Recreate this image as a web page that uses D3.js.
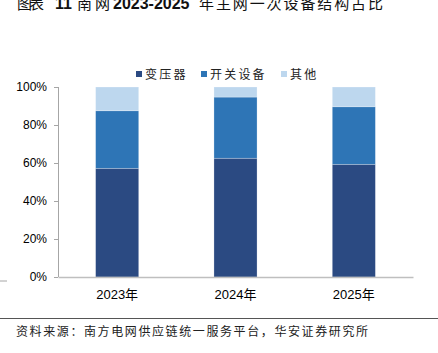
<!DOCTYPE html>
<html>
<head>
<meta charset="utf-8">
<script src="https://cdn.jsdelivr.net/npm/d3@7"></script>
<style>
  body { margin: 0; background: #fff; }
  svg { display: block; }
  .axis text { font-family: "Liberation Sans", Arial, sans-serif; fill: #000; }
  .cn { font-family: "Noto Sans CJK SC", sans-serif; }
  .num { font-family: "Liberation Sans", Arial, sans-serif; font-weight: bold; }
</style>
</head>
<body>
<div id="chart"></div>
<script>
// chart data
const years = ['2023年', '2024年', '2025年'];
const seriesNames = ['变压器', '开关设备', '其他'];
const transformer = [57.2, 62.5, 59.3];
const switchgear = [30.3, 32.2, 30.3];
const others = [12.5, 5.3, 10.4];
const yTicks = [0, 20, 40, 60, 80, 100];
const colors = ['#2b4a82', '#2e75b6', '#bdd7ee'];

const width = 438;
const height = 353;
const margin = { top: 87, right: 25, bottom: 76, left: 58 };
const innerW = width - margin.left - margin.right;
const innerH = height - margin.top - margin.bottom;

const svg = d3.select('#chart').append('svg')
  .attr('width', width)
  .attr('height', height);

// title pieces (top clipped like the original page cut)
const titleParts = [
  { t: '图表', x: 17, len: 27, cls: 'cn', size: 15 },
  { t: '11', x: 55, len: null, cls: 'num', size: 16 },
  { t: '南网', x: 77, len: 33, cls: 'cn', size: 15 },
  { t: '2023-2025', x: 113, len: null, cls: 'num', size: 16 },
  { t: '年主网一次设备结构占比', x: 199, len: 184, cls: 'cn', size: 15 },
];
titleParts.forEach((p) => {
  const el = svg.append('text')
    .attr('class', p.cls)
    .attr('x', p.x)
    .attr('y', 9)
    .attr('fill', '#111')
    .style('font-size', `${p.size}px`)
    .text(p.t);
  if (p.len) el.attr('textLength', p.len).attr('lengthAdjust', 'spacing');
});

const chart = svg.append('g')
  .attr('transform', `translate(${margin.left},${margin.top})`);

const xScale = d3.scaleBand()
  .domain(years)
  .range([0, innerW])
  .paddingInner(0.636)
  .paddingOuter(0.318);

const yScale = d3.scaleLinear()
  .domain([0, 100])
  .range([innerH, 0]);

// stack the three series
const rows = years.map((y, i) => ({
  year: y, '变压器': transformer[i], '开关设备': switchgear[i], '其他': others[i],
}));
const stacked = d3.stack().keys(seriesNames)(rows);

chart.selectAll('.series')
  .data(stacked)
  .join('g')
  .attr('class', 'series')
  .attr('fill', (d, i) => colors[i])
  .selectAll('rect')
  .data((d) => d)
  .join('rect')
  .attr('x', (d) => xScale(d.data.year))
  .attr('y', (d) => yScale(d[1]))
  .attr('width', xScale.bandwidth())
  .attr('height', (d) => yScale(d[0]) - yScale(d[1]))
  .attr('stroke', 'rgba(255,255,255,0.35)')
  .attr('stroke-width', 0.7);

// y axis
const yAxis = d3.axisLeft(yScale)
  .tickValues(yTicks)
  .tickFormat((d) => `${d}%`)
  .tickSize(4)
  .tickPadding(7);

const yAxisG = chart.append('g')
  .attr('class', 'axis y-axis')
  .call(yAxis);
yAxisG.select('.domain').attr('stroke', '#a6a6a6').attr('d', `M0.5,0V${innerH}`);
yAxisG.selectAll('.tick line').attr('stroke', '#a6a6a6');
yAxisG.selectAll('.tick text').style('font-size', '12px');

// x axis
const xAxis = d3.axisBottom(xScale).tickSize(0).tickPadding(13);
const xAxisG = chart.append('g')
  .attr('class', 'axis x-axis')
  .attr('transform', `translate(0,${innerH})`)
  .call(xAxis);
xAxisG.select('.domain').attr('stroke', '#bfbfbf').attr('stroke-width', 1.5);
xAxisG.selectAll('.tick text')
  .style('font-size', '13px')
  .each(function () {
    const t = d3.select(this);
    const s = t.text();
    t.text(null);
    t.append('tspan').text(s.slice(0, 4));
    t.append('tspan').attr('class', 'cn').text(s.slice(4));
  });

// legend
const legendX = [136, 201, 281];
const legend = svg.append('g').attr('class', 'legend');
seriesNames.forEach((name, i) => {
  legend.append('rect')
    .attr('x', legendX[i])
    .attr('y', 71)
    .attr('width', 6)
    .attr('height', 6)
    .attr('fill', colors[i]);
  legend.append('text')
    .attr('class', 'cn')
    .attr('x', legendX[i] + 9)
    .attr('y', 79)
    .style('font-size', '12px')
    .style('letter-spacing', '2.2px')
    .attr('fill', '#222')
    .text(name);
});

// page bits: small rule at left and footer
svg.append('line')
  .attr('x1', 0).attr('x2', 7).attr('y1', 281).attr('y2', 281)
  .attr('stroke', '#a6a6a6');
svg.append('line')
  .attr('x1', 0).attr('x2', width).attr('y1', 318.5).attr('y2', 318.5)
  .attr('stroke', '#555');
svg.append('text')
  .attr('class', 'cn')
  .attr('x', 16)
  .attr('y', 336)
  .style('font-size', '12px')
  .style('letter-spacing', '1.6px')
  .attr('fill', '#222')
  .text('资料来源：南方电网供应链统一服务平台，华安证券研究所');
</script>
</body>
</html>
